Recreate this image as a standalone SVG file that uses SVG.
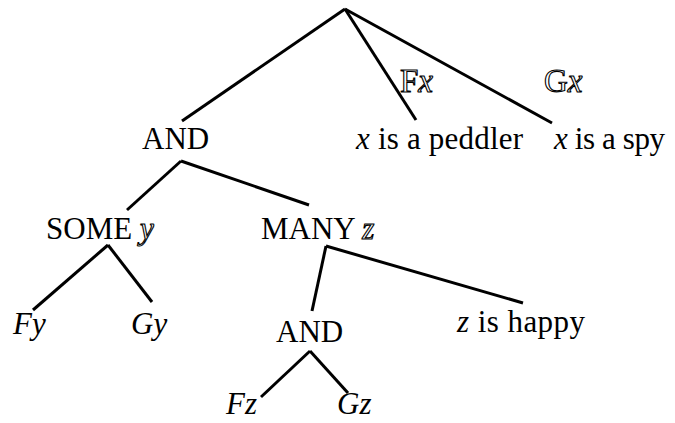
<svg xmlns="http://www.w3.org/2000/svg" width="675" height="423" viewBox="0 0 675 423">
<style>
  text { font-family: "Liberation Serif", "Times New Roman", serif; font-size: 31px; fill: #000; }
  .i { font-style: italic; }
  .o { fill: #fff; stroke: #000; stroke-width: 1.1px; }
  .edge { stroke: #000; stroke-width: 3; stroke-linecap: butt; fill: none; }
</style>
<rect width="675" height="423" fill="#fff"/>
<g id="connectors">
  <line class="edge" x1="345" y1="9" x2="182" y2="121"/>
  <line class="edge" x1="345" y1="9" x2="416" y2="120"/>
  <line class="edge" x1="345" y1="9" x2="552" y2="123"/>
  <line class="edge" x1="181" y1="161" x2="127" y2="210"/>
  <line class="edge" x1="181" y1="161" x2="309" y2="205"/>
  <line class="edge" x1="108" y1="245" x2="33" y2="310"/>
  <line class="edge" x1="108" y1="245" x2="152" y2="302"/>
  <line class="edge" x1="326" y1="246" x2="312" y2="311"/>
  <line class="edge" x1="326" y1="246" x2="523" y2="303"/>
  <line class="edge" x1="310" y1="351" x2="261" y2="397"/>
  <line class="edge" x1="310" y1="351" x2="348" y2="393"/>
</g>
<g id="and-top"><text x="142" y="149">AND</text></g>
<g id="fx-label"><text x="400" y="92" class="o" style="font-size:33px">F<tspan class="i">x</tspan></text></g>
<g id="gx-label"><text x="544" y="92" class="o" style="font-size:33px">G<tspan class="i">x</tspan></text></g>
<g id="peddler"><text x="356" y="149" textLength="167"><tspan class="i">x</tspan> is a peddler</text></g>
<g id="spy"><text x="554" y="149" textLength="111"><tspan class="i">x</tspan> is a spy</text></g>
<g id="some-y"><text x="46" y="239">SOME <tspan class="i o">y</tspan></text></g>
<g id="many-z"><text x="261" y="239">MANY <tspan class="i o">z</tspan></text></g>
<g id="fy"><text x="13" y="334" class="i">Fy</text></g>
<g id="gy"><text x="131" y="334" class="i">Gy</text></g>
<g id="and-bottom"><text x="276" y="342">AND</text></g>
<g id="happy"><text x="457" y="332" textLength="128"><tspan class="i">z</tspan> is happy</text></g>
<g id="fz"><text x="226" y="414" class="i">Fz</text></g>
<g id="gz"><text x="337" y="414" class="i">Gz</text></g>
</svg>
